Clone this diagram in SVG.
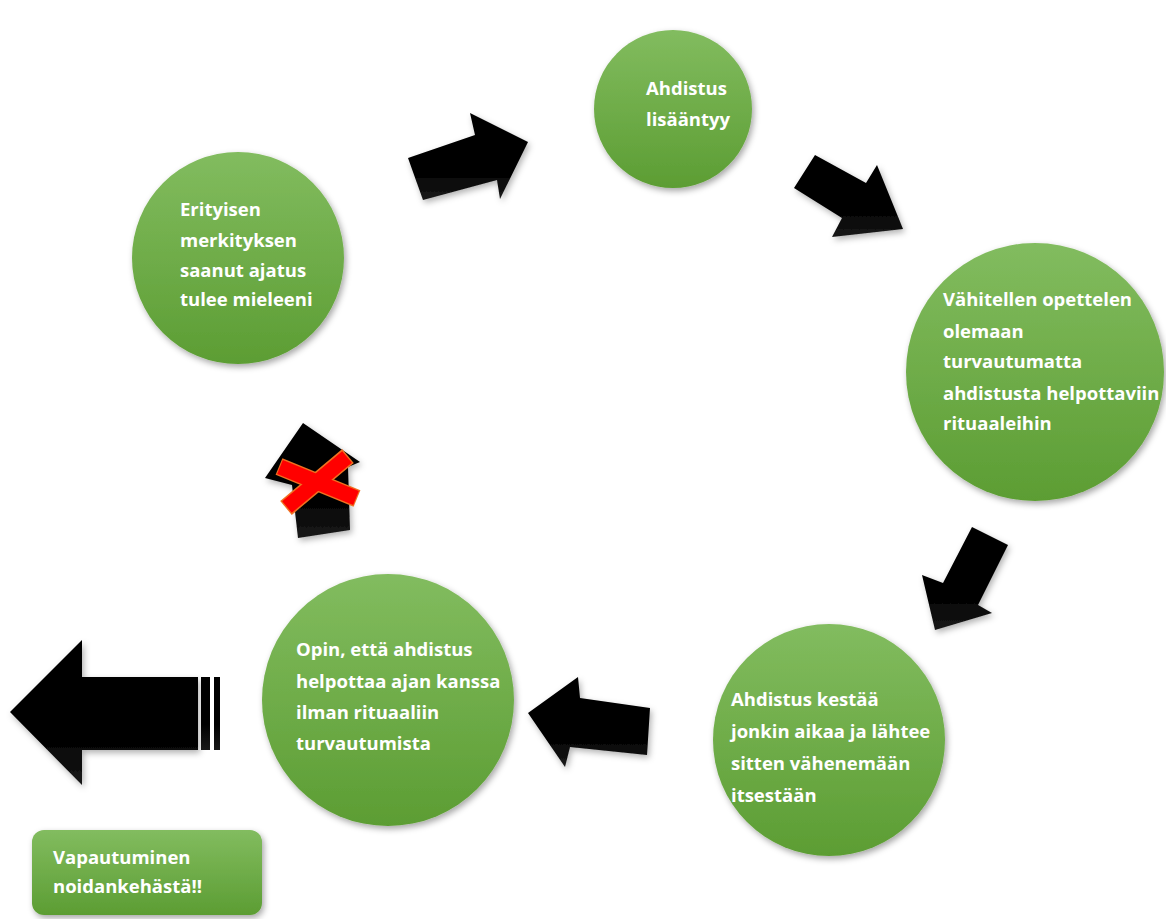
<svg xmlns="http://www.w3.org/2000/svg" width="1166" height="919" viewBox="0 0 1166 919">
<defs>
<linearGradient id="g" x1="0" y1="0" x2="0" y2="1">
<stop offset="0" stop-color="#82bc5f"/>
<stop offset="1" stop-color="#5c9d33"/>
</linearGradient>
<linearGradient id="ag" x1="0" y1="0" x2="0" y2="1">
<stop offset="0" stop-color="#000"/>
<stop offset="0.65" stop-color="#000"/>
<stop offset="1" stop-color="#181818"/>
</linearGradient>
<filter id="sh" x="-20%" y="-20%" width="150%" height="150%">
<feDropShadow dx="2" dy="3" stdDeviation="3" flood-color="#000" flood-opacity="0.35"/>
</filter>
<filter id="ash" x="-20%" y="-20%" width="150%" height="150%">
<feDropShadow dx="2" dy="3" stdDeviation="3" flood-color="#000" flood-opacity="0.3"/>
</filter>
</defs>
<style>
.n{fill:url(#g);filter:url(#sh)}
.t{font-family:"Open Sans","Liberation Sans",Arial,sans-serif;font-weight:bold;font-size:18.5px;fill:#fff;font-variant-ligatures:none;font-feature-settings:"liga" 0,"dlig" 0}
.a{fill:url(#ag);filter:url(#ash)}
.xo{stroke:#f07020;stroke-width:18}
.xr{stroke:#ff0000;stroke-width:15}
</style>
<rect width="1166" height="919" fill="#fff"/>
<g id="connectors">
<polygon class="a" points="408,158 423,200 497,180 500,199 528,142 470,113 475,135"/>
<polygon class="a" points="815,155 794,188 842,218 832,237 903,229 877,165 866,183"/>
<polygon class="a" points="1008,545 972,527 943,583 922,575 935,630 992,613 978,605"/>
<polygon class="a" points="650,708 647,755 570,747 565,767 528,713 578,677 580,698"/>
<g id="blocked">
<polygon class="a" points="303,423 265,478 292,485 298,538 350,530 348,467 360,462"/>
<line class="xo" x1="279" y1="466.5" x2="357" y2="498.5"/>
<line class="xo" x1="348" y1="456" x2="286" y2="508"/>
<line class="xr" x1="280" y1="467" x2="356" y2="498"/>
<line class="xr" x1="347" y1="457" x2="287" y2="507"/>
</g>
<g id="exit-arrow">
<polygon class="a" points="10,712 82,640 82,677 198,677 198,750 82,750 82,785"/>
<rect x="201" y="677" width="9" height="73" fill="url(#ag)"/>
<rect x="214" y="677" width="6" height="73" fill="url(#ag)"/>
</g>
</g>
<g id="n1"><circle class="n" cx="238" cy="258" r="106"/>
<text class="t"><tspan x="180" y="216">Erityisen</tspan><tspan x="180" y="247">merkityksen</tspan><tspan x="180" y="277">saanut ajatus</tspan><tspan x="180" y="306">tulee mieleeni</tspan></text></g>
<g id="n2"><circle class="n" cx="673" cy="109" r="79"/>
<text class="t"><tspan x="646" y="95">Ahdistus</tspan><tspan x="646" y="126">lisääntyy</tspan></text></g>
<g id="n3"><circle class="n" cx="1035" cy="372" r="129"/>
<text class="t"><tspan x="943" y="306">Vähitellen opettelen</tspan><tspan x="943" y="338">olemaan</tspan><tspan x="943" y="368">turvautumatta</tspan><tspan x="943" y="400">ahdistusta helpottaviin</tspan><tspan x="943" y="430">rituaaleihin</tspan></text></g>
<g id="n4"><circle class="n" cx="829" cy="740" r="116"/>
<text class="t"><tspan x="731" y="706">Ahdistus kestää</tspan><tspan x="731" y="738">jonkin aikaa ja lähtee</tspan><tspan x="731" y="770">sitten vähenemään</tspan><tspan x="731" y="802">itsestään</tspan></text></g>
<g id="n5"><circle class="n" cx="388" cy="700" r="126"/>
<text class="t"><tspan x="296" y="656">Opin, että ahdistus</tspan><tspan x="296" y="688">helpottaa ajan kanssa</tspan><tspan x="296" y="719">ilman rituaaliin</tspan><tspan x="296" y="750">turvautumista</tspan></text></g>
<g id="n6"><rect class="n" x="32" y="830" width="230" height="85" rx="12"/>
<text class="t"><tspan x="53" y="864">Vapautuminen</tspan><tspan x="53" y="893">noidankehästä!!</tspan></text></g>
</svg>
